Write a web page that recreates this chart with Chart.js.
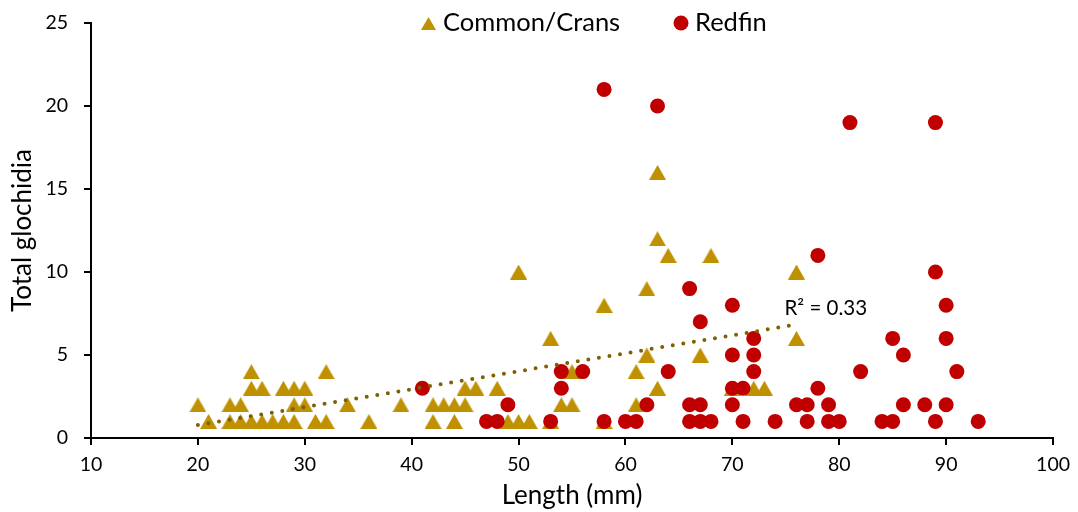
<!DOCTYPE html>
<html>
<head>
<meta charset="utf-8">
<script src="https://cdn.jsdelivr.net/npm/chart.js@4"></script>
<style>
    html, body { margin: 0; padding: 0; background: #fff; }
    #wrap { width: 1078px; height: 512px; }
</style>
</head>
<body>
<div id="wrap"><canvas id="scatter" width="1078" height="512"></canvas></div>
<script>
const commonLength = [20, 21, 23, 23, 24, 24, 25, 25, 25, 26, 26, 27, 28, 28, 29, 29, 29, 30, 30, 31, 32, 32, 34, 36, 39, 42, 42, 43, 44, 44, 45, 45, 46, 48, 49, 50, 50, 51, 53, 53, 54, 55, 55, 58, 58, 61, 61, 62, 62, 63, 63, 63, 64, 67, 68, 70, 72, 73, 76, 76]
const commonGlochidia = [2, 1, 2, 1, 2, 1, 4, 3, 1, 3, 1, 1, 3, 1, 3, 2, 1, 3, 2, 1, 4, 1, 2, 1, 2, 2, 1, 2, 2, 1, 3, 2, 3, 3, 1, 10, 1, 1, 6, 1, 2, 4, 2, 8, 1, 4, 2, 9, 5, 16, 12, 3, 11, 5, 11, 3, 3, 3, 10, 6]

const redfinLength = [41, 47, 48, 49, 53, 54, 54, 56, 58, 58, 60, 61, 62, 63, 64, 66, 66, 66, 67, 67, 67, 68, 70, 70, 70, 70, 71, 71, 72, 72, 72, 74, 76, 77, 77, 78, 78, 79, 79, 80, 81, 82, 84, 85, 85, 86, 86, 88, 89, 89, 89, 90, 90, 90, 91, 93]
const redfinGlochidia = [3, 1, 1, 2, 1, 3, 4, 4, 21, 1, 1, 1, 2, 20, 4, 9, 2, 1, 7, 2, 1, 1, 8, 5, 3, 2, 3, 1, 6, 5, 4, 1, 2, 2, 1, 11, 3, 2, 1, 1, 19, 4, 1, 6, 1, 5, 2, 2, 19, 10, 1, 8, 6, 2, 4, 1]

const seriesNames = ['Common/Crans', 'Redfin']
const xTicks = [10, 20, 30, 40, 50, 60, 70, 80, 90, 100]
const yTicks = [0, 5, 10, 15, 20, 25]
const rSquaredLabel = 'R² = 0.33'

const GOLD = '#BF9000'
const RED = '#C00000'
const OLIVE = '#7F6000'
const FONT = 'Lato'

// triangle marker centred on its bounding box
function triangleMarker(w, h, color) {
    const c = document.createElement('canvas')
    c.width = w
    c.height = h
    const g = c.getContext('2d')
    g.fillStyle = color
    g.beginPath()
    g.moveTo(0, h)
    g.lineTo(w / 2, 0)
    g.lineTo(w, h)
    g.closePath()
    g.fill()
    return c
}

const toPoints = (xs, ys) => xs.map((x, i) => ({ x, y: ys[i] }))

// least squares line through the Common/Crans points
function linearFit(xs, ys) {
    const n = xs.length
    const mx = xs.reduce((a, b) => a + b, 0) / n
    const my = ys.reduce((a, b) => a + b, 0) / n
    let sxy = 0, sxx = 0
    xs.forEach((x, i) => { sxy += (x - mx) * (ys[i] - my); sxx += (x - mx) * (x - mx) })
    const slope = sxy / sxx
    return { slope, intercept: my - slope * mx }
}

const fit = linearFit(commonLength, commonGlochidia)
const xMin = Math.min(...commonLength)
const xMax = Math.max(...commonLength)
const trendPoints = [
    { x: xMin, y: fit.intercept + fit.slope * xMin },
    { x: xMax, y: fit.intercept + fit.slope * xMax }
]

const triangle = triangleMarker(17, 15, GOLD)
const legendTriangle = triangleMarker(15, 13, GOLD)

// legend row and R² label drawn over the plot
const overlay = {
    id: 'overlay',
    afterDraw(chart) {
        const ctx = chart.ctx
        const x = chart.scales.x
        const y = chart.scales.y
        ctx.save()
        ctx.fillStyle = '#000'
        ctx.textBaseline = 'middle'
        ctx.textAlign = 'left'

        ctx.font = `25.5px ${FONT}`
        ctx.drawImage(legendTriangle, 421, 17)
        ctx.fillText(seriesNames[0], 443, 23)
        ctx.fillStyle = RED
        ctx.beginPath()
        ctx.arc(681, 23, 7.5, 0, Math.PI * 2)
        ctx.fill()
        ctx.fillStyle = '#000'
        ctx.fillText(seriesNames[1], 695, 23)

        ctx.font = `20.5px ${FONT}`
        const end = trendPoints[1]
        ctx.fillText(rSquaredLabel, x.getPixelForValue(end.x) - 12, y.getPixelForValue(end.y) - 16)
        ctx.restore()
    }
}

new Chart(document.getElementById('scatter'), {
    type: 'scatter',
    data: {
        datasets: [{
            type: 'line',
            label: 'Linear (Common/Crans)',
            data: trendPoints,
            borderColor: OLIVE,
            borderWidth: 4,
            borderDash: [0, 10.7],
            borderCapStyle: 'round',
            pointRadius: 0,
            fill: false,
            order: 0
        }, {
            label: seriesNames[1],
            data: toPoints(redfinLength, redfinGlochidia),
            backgroundColor: RED,
            borderWidth: 0,
            pointRadius: 7.5,
            pointHoverRadius: 7.5,
            order: 1
        }, {
            label: seriesNames[0],
            data: toPoints(commonLength, commonGlochidia),
            pointStyle: triangle,
            backgroundColor: GOLD,
            pointRadius: 9,
            order: 2
        }]
    },
    options: {
        responsive: false,
        animation: false,
        layout: { padding: { top: 23, right: 24, left: 0, bottom: 0 } },
        plugins: {
            legend: { display: false },
            tooltip: { enabled: false }
        },
        scales: {
            x: {
                type: 'linear',
                min: xTicks[0],
                max: xTicks[xTicks.length - 1],
                afterBuildTicks: scale => { scale.ticks = xTicks.map(v => ({ value: v })) },
                afterFit: scale => { scale.height = 74 },
                grid: { drawOnChartArea: false, drawTicks: true, tickLength: 7, color: '#000', lineWidth: 2 },
                border: { display: true, color: '#000', width: 2 },
                ticks: { color: '#000', font: { family: FONT, size: 19.5 }, padding: 8 },
                title: { display: true, text: 'Length (mm)', color: '#000', font: { family: FONT, size: 26 }, padding: { top: 0, bottom: 1 } }
            },
            y: {
                type: 'linear',
                min: yTicks[0],
                max: yTicks[yTicks.length - 1],
                afterBuildTicks: scale => { scale.ticks = yTicks.map(v => ({ value: v })) },
                afterFit: scale => {
                    scale.width = 91
                    // the wide tick padding should not push the plot top down
                    scale.paddingTop = 0
                    scale.paddingBottom = 0
                },
                grid: { drawOnChartArea: false, drawTicks: true, tickLength: 7, color: '#000', lineWidth: 2 },
                border: { display: true, color: '#000', width: 2 },
                ticks: { color: '#000', font: { family: FONT, size: 19.5 }, padding: 16 },
                title: { display: true, text: 'Total glochidia', color: '#000', font: { family: FONT, size: 26 }, padding: { top: 7, bottom: 0 } }
            }
        }
    },
    plugins: [overlay]
})
</script>
</body>
</html>
